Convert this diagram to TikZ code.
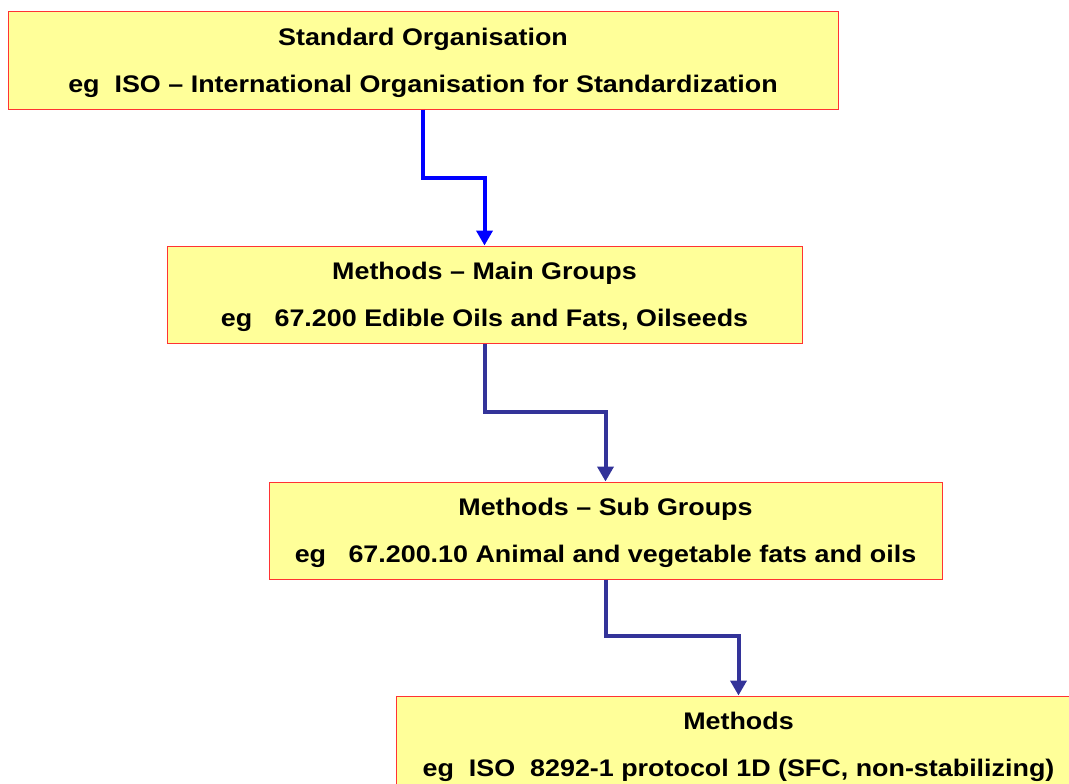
\documentclass[tikz,border=0pt]{standalone}
\usepackage{fontspec}
\setmainfont{Liberation Sans}[FakeStretch=1.12]
\usetikzlibrary{arrows.meta}
\definecolor{boxfill}{HTML}{FFFF99}
\definecolor{boxline}{HTML}{FF3333}
\definecolor{darkblue}{HTML}{333399}
\tikzset{
  stdbox/.style={draw=boxline, line width=1pt, fill=boxfill, inner sep=0pt,
    anchor=north, minimum height=97pt},
  boxtext/.style={align=center, font=\fontsize{24}{47}\selectfont\bfseries, yshift=-2.5pt},
  conn/.style={line width=4pt, -{Triangle[length=15pt,width=16pt]}}
}
\begin{document}
\begin{tikzpicture}[x=1pt,y=-1pt]
\useasboundingbox (0,0) rectangle (1069,784);
\node[stdbox, minimum width=830pt,
  label={[boxtext]center:Standard Organisation\\eg\ \ ISO -- International Organisation for Standardization}]
  (b1) at (423,11.5) {};
\node[stdbox, minimum width=635pt,
  label={[boxtext]center:Methods -- Main Groups\\eg\ \ \ 67.200 Edible Oils and Fats, Oilseeds}]
  (b2) at (484.5,245.5) {};
\node[stdbox, minimum width=673pt,
  label={[boxtext]center:Methods -- Sub Groups\\eg\ \ \ 67.200.10 Animal and vegetable fats and oils}]
  (b3) at (605.5,481.5) {};
\node[stdbox, minimum width=685pt,
  label={[boxtext]center:Methods\\eg\ \ ISO\ \ 8292-1 protocol 1D (SFC, non-stabilizing)}]
  (b4) at (738.5,695.5) {};
\draw[conn, blue] (b1.south) -- ++(0,68) -| (b2.north);
\draw[conn, darkblue] (b2.south) -- ++(0,68) -| (b3.north);
\draw[conn, darkblue] (b3.south) -- ++(0,56) -| (b4.north);
\end{tikzpicture}
\end{document}
